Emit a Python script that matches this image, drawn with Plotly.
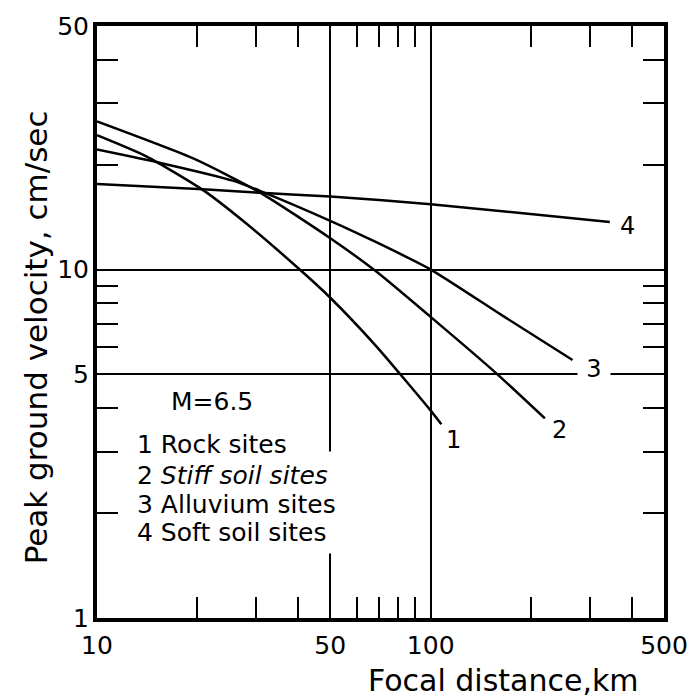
import numpy as np
import plotly.graph_objects as go

# ---- data ----
rock_dist = [10, 14.1, 20.8, 27.9, 40.5, 50, 68.4, 99.3, 107.6]
rock_vel = [24.3, 21.1, 16.9, 13.6, 10.0, 8.3, 6.05, 3.97, 3.6]

stiff_dist = [10, 19.5, 30.9, 50, 68.4, 99.3, 157.8, 219.8]
stiff_vel = [26.6, 20.8, 16.6, 12.3, 9.9, 7.35, 5.02, 3.74]

alluv_dist = [10, 15.6, 25.5, 30.9, 50, 68.4, 100, 165, 266]
alluv_vel = [22.1, 20.2, 18.0, 16.8, 13.8, 12.0, 10.0, 7.35, 5.5]

soft_dist = [10, 20.8, 30.9, 50, 100, 344]
soft_vel = [17.6, 17.0, 16.6, 16.2, 15.4, 13.7]

curve_ids = ["1", "2", "3", "4"]
legend_lines = ["1 Rock sites", "2 <i>Stiff soil sites</i>", "3 Alluvium sites", "4 Soft soil sites"]
magnitude_text = "M=6.5"

x_major = [10, 50, 100, 500]
x_minor = [20, 30, 40, 60, 70, 80, 90, 200, 300, 400]
y_major = [1, 5, 10, 50]
y_minor = [2, 3, 4, 6, 7, 8, 9, 20, 30, 40]

FONT = "DejaVu Sans"
series = [(rock_dist, rock_vel), (stiff_dist, stiff_vel),
          (alluv_dist, alluv_vel), (soft_dist, soft_vel)]

fig = go.Figure()
for d, v in series:
    fig.add_trace(go.Scatter(x=d, y=v, mode="lines",
                             line=dict(color="black", width=2.5, shape="spline", smoothing=0.6),
                             showlegend=False, hoverinfo="skip"))

axis_common = dict(
    type="log", showline=True, linewidth=4, linecolor="black", mirror="ticks",
    ticks="inside", ticklen=0, tickwidth=2, tickcolor="black",
    showgrid=True, gridcolor="black", gridwidth=2, zeroline=False,
    tickfont=dict(family=FONT, size=25, color="black"),
)

fig.update_xaxes(**axis_common, range=[np.log10(10), np.log10(500)],
                 tickvals=x_major, ticktext=[str(t) for t in x_major],
                 ticklabelstandoff=2,
                 minor=dict(tickvals=x_minor, ticks="inside", ticklen=21,
                            tickwidth=2, tickcolor="black", showgrid=False))
fig.update_yaxes(**axis_common, range=[np.log10(1), np.log10(50)],
                 tickvals=y_major, ticktext=[str(t) for t in y_major],
                 ticklabelstandoff=-1,
                 minor=dict(tickvals=y_minor, ticks="inside", ticklen=21,
                            tickwidth=2, tickcolor="black", showgrid=False))

# white mask where the 50-km grid line is interrupted by the legend text
fig.add_shape(type="rect", xref="paper", yref="paper",
              x0=(322 - 97) / 576, x1=(350 - 97) / 576,
              y0=(618 - 553) / 597, y1=(618 - 450) / 597,
              fillcolor="white", line=dict(width=0), layer="above")

# curve labels at the curve ends
shifts = [(12, -16), (15, -12), (21, -9), (18, -4)]
for (d, v), cid, (dx, dy) in zip(series, curve_ids, shifts):
    kw = {}
    if cid == "3":
        kw = dict(bgcolor="white", width=30, height=26)
    fig.add_annotation(x=np.log10(d[-1]), y=np.log10(v[-1]), xref="x", yref="y",
                       text=cid, showarrow=False, xshift=dx, yshift=dy,
                       font=dict(family=FONT, size=24, color="black"), **kw)

# legend block
fig.add_annotation(xref="paper", yref="paper", x=(214 - 97) / 576, y=(618 - 400) / 597,
                   text=magnitude_text, showarrow=False, xanchor="center", yanchor="middle",
                   font=dict(family=FONT, size=25, color="black"))
row_y = [443, 474, 504, 532]
for txt, py in zip(legend_lines, row_y):
    fig.add_annotation(xref="paper", yref="paper", x=(136 - 97) / 576, y=(618 - py) / 597,
                       text=txt, showarrow=False, xanchor="left", yanchor="middle",
                       font=dict(family=FONT, size=25, color="black"))

# axis titles
fig.add_annotation(xref="paper", yref="paper", x=(510 - 97) / 576, y=(618 - 681) / 597,
                   text="Focal distance,km", showarrow=False, xanchor="center", yanchor="middle",
                   font=dict(family=FONT, size=30, color="black"))
fig.add_annotation(xref="paper", yref="paper", x=(35 - 97) / 576, y=(618 - 335) / 597,
                   text="Peak ground velocity, cm/sec", showarrow=False, textangle=-90,
                   xanchor="center", yanchor="middle",
                   font=dict(family=FONT, size=31, color="black"))

fig.update_layout(width=700, height=699, autosize=False,
                  margin=dict(l=97, r=27, t=21, b=81),
                  paper_bgcolor="white", plot_bgcolor="white")

fig.write_html("out.html")
